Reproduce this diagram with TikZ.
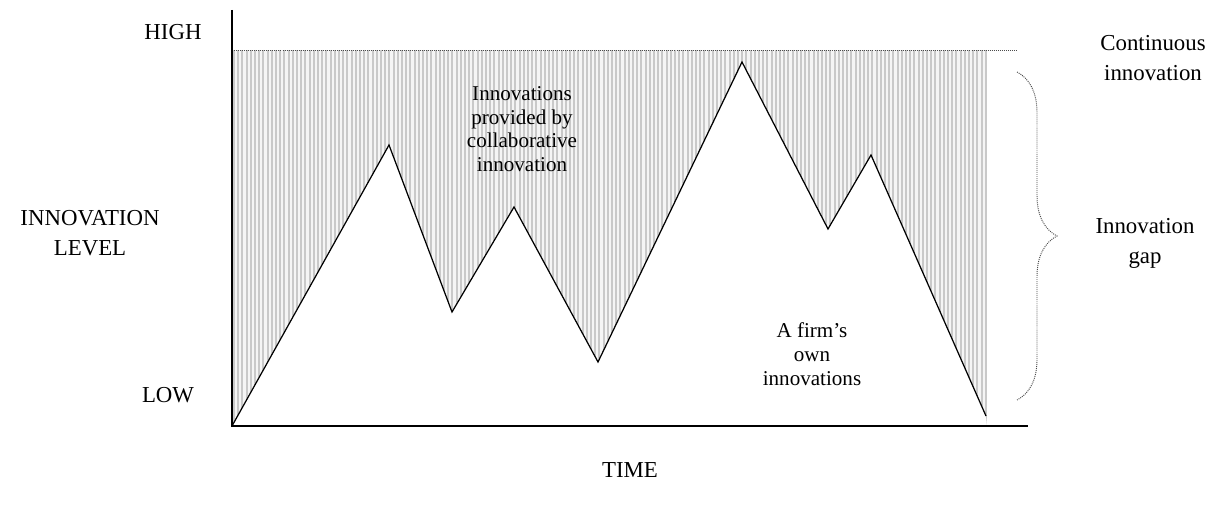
\documentclass[tikz,border=0pt]{standalone}
\usepackage{fontspec}
\setmainfont{Liberation Serif}
\usepackage{tikz}
\usetikzlibrary{calc,positioning,decorations.pathreplacing}
\tikzset{
	axisline/.style={line width=0.8pt},
	peakline/.style={line width=0.7pt},
	dotline/.style={gray!60!black,line width=0.55pt,dash pattern=on 0.55pt off 0.6pt},
	outerlabel/.style={anchor=center,align=center,font=\fontsize{13}{17}\selectfont},
	innerlabel/.style={anchor=center,align=center,font=\fontsize{12}{13.5}\selectfont},
}
\begin{document}
\begin{tikzpicture}[x=0.02cm,y=-0.02cm]
				\useasboundingbox (0,0) rectangle (1210,513);
				
				\coordinate (O) at (232,426);
				\coordinate (Ytop) at (232,10);
				\coordinate (Xend) at (1028,426);
				\coordinate (P1) at (389,145);
				\coordinate (P2) at (452,312);
				\coordinate (P3) at (514,207);
				\coordinate (P4) at (598,362);
				\coordinate (P5) at (742,62);
				\coordinate (P6) at (828,229);
				\coordinate (P7) at (871,155);
				\coordinate (P8) at (986,416);
				\coordinate (Hleft) at (232,50);
				\coordinate (Hright) at (1016,50);
				
				\begin{scope}
					\clip (Hleft) -- (987,50) -- (987,426) -- (P8) -- (P7) -- (P6) -- (P5) -- (P4) -- (P3) -- (P2) -- (P1) -- (O) -- cycle;
					\fill[gray!8] (232,50) rectangle (987,426);
					\foreach \x in {234,238.2,...,988}
						\draw[gray!42,line width=1.1pt] (\x,50) -- (\x,426);
				\end{scope}
				
				\draw[dotline] (Hleft) -- (Hright);
				\draw[peakline] (O) -- (P1) -- (P2) -- (P3) -- (P4) -- (P5) -- (P6) -- (P7) -- (P8);
				\draw[axisline] (Ytop) -- (O) -- (Xend);
				
				\draw[dotline,decorate,decoration={brace,amplitude=0.8cm}] (1017,72) -- (1017,400);
				
				\node (high) at (173,32) [outerlabel] {HIGH};
				\node (low) at (168,395) [outerlabel] {LOW};
				\node (level) at (90,233) [outerlabel] {INNOVATION\\LEVEL};
				\node (time) at (630,470) [outerlabel] {TIME};
				\node (cont) at (1153,58) [outerlabel] {Continuous\\innovation};
				\node (gap) at (1145,243) [outerlabel] {Innovation\\gap};
				\node (collab) at (522,129) [innerlabel] {Innovations\\provided by\\collaborative\\innovation};
				\node (own) at (812,354) [innerlabel] {A firm’s\\own\\innovations};
				
				\end{tikzpicture}
\end{document}
